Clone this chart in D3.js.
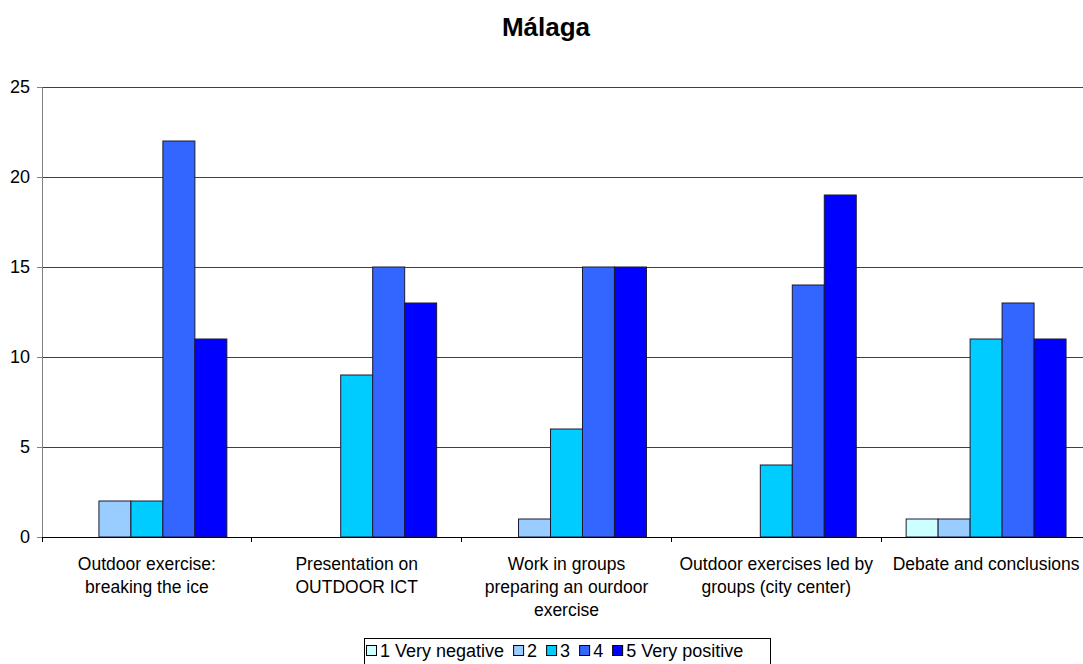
<!DOCTYPE html>
<html lang="en">
<head>
<meta charset="UTF-8">
<title>Málaga</title>
<script src="https://d3js.org/d3.v7.min.js"></script>
<style>
  body { margin: 0; background: #fff; }
  svg { font-family: "Liberation Sans", Arial, sans-serif; }
</style>
</head>
<body>
<svg width="1083" height="664"></svg>
<script>
const categories = [
  ["Outdoor exercise:", "breaking the ice"],
  ["Presentation on", "OUTDOOR ICT"],
  ["Work in groups", "preparing an ourdoor", "exercise"],
  ["Outdoor exercises led by", "groups (city center)"],
  ["Debate and conclusions"]
];
const seriesNames = ["1 Very negative", "2", "3", "4", "5 Very positive"];
const veryNegative = [0, 0, 0, 0, 1];
const two = [2, 0, 1, 0, 1];
const three = [2, 9, 6, 4, 11];
const four = [22, 15, 15, 14, 13];
const veryPositive = [11, 13, 15, 19, 11];
const yTicks = [0, 5, 10, 15, 20, 25];
const colors = ["#ccffff", "#99ccff", "#00ccff", "#3366ff", "#0000ff"];

const seriesValues = [veryNegative, two, three, four, veryPositive];
const svg = d3.select("svg");

const plotLeft = 42, plotRight = 1091, plotTop = 87, plotBottom = 537;

const x0 = d3.scaleBand().domain(d3.range(categories.length)).range([plotLeft, plotRight]).padding(0);
const x1 = d3.scaleBand().domain(d3.range(seriesNames.length))
  .range([0, x0.bandwidth()]).paddingInner(0).paddingOuter(0.78);
const y = d3.scaleLinear().domain([0, 25]).range([plotBottom, plotTop]);

// title
svg.append("text").attr("x", 546).attr("y", 36).attr("text-anchor", "middle")
  .style("font-size", "26px").style("font-weight", "bold").text("Málaga");

// gridlines
svg.append("g").selectAll("line").data(yTicks.filter(d => d > 0)).join("line")
  .attr("x1", plotLeft).attr("x2", 1083)
  .attr("y1", d => y(d)).attr("y2", d => y(d))
  .attr("stroke", "#404040").attr("stroke-width", 1).attr("shape-rendering", "crispEdges");

// y axis
const yAxis = d3.axisLeft(y).tickValues(yTicks).tickSize(5).tickPadding(7);
const gy = svg.append("g").attr("transform", `translate(${plotLeft},0)`).call(yAxis);
gy.select(".domain").attr("stroke", "#808080");
gy.selectAll(".tick line").attr("stroke", "#808080");
gy.selectAll("text").style("font-size", "18px").style("font-family", "Liberation Sans, Arial, sans-serif").attr("fill", "#000");

// bars
const groups = svg.append("g").selectAll("g").data(categories).join("g")
  .attr("transform", (d, i) => `translate(${x0(i)},0)`);
groups.selectAll("rect")
  .data((d, i) => seriesValues.map((s, k) => ({ k, v: s[i] })).filter(d => d.v > 0))
  .join("rect")
  .attr("x", d => x1(d.k))
  .attr("width", x1.bandwidth())
  .attr("y", d => y(d.v))
  .attr("height", d => y(0) - y(d.v))
  .attr("fill", d => colors[d.k])
  .attr("stroke", "#1a1a33").attr("stroke-width", 1);

// x axis
svg.append("line").attr("x1", plotLeft).attr("x2", 1083).attr("y1", plotBottom).attr("y2", plotBottom)
  .attr("stroke", "#000").attr("shape-rendering", "crispEdges");
svg.append("g").selectAll("line").data(d3.range(categories.length)).join("line")
  .attr("x1", d => x0(d)).attr("x2", d => x0(d))
  .attr("y1", plotBottom).attr("y2", plotBottom + 5)
  .attr("stroke", "#000").attr("shape-rendering", "crispEdges");

// category labels
const labels = svg.append("g").selectAll("text").data(categories).join("text")
  .attr("text-anchor", "middle")
  .attr("x", (d, i) => x0(i) + x0.bandwidth() / 2)
  .attr("y", 570)
  .style("font-size", "17.5px");
labels.selectAll("tspan").data(d => d).join("tspan")
  .attr("x", function () { return d3.select(this.parentNode).attr("x"); })
  .attr("dy", (d, j) => j === 0 ? 0 : 23)
  .text(d => d);

// legend
const legend = svg.append("g");
legend.append("rect").attr("x", 364.5).attr("y", 638.5).attr("width", 406).attr("height", 26)
  .attr("fill", "#fff").attr("stroke", "#000");
let lx = 366;
seriesNames.forEach((name, k) => {
  legend.append("rect").attr("x", lx + 0.5).attr("y", 645.5).attr("width", 10).attr("height", 10)
    .attr("fill", colors[k]).attr("stroke", "#000");
  const t = legend.append("text").attr("x", lx + 14).attr("y", 657)
    .style("font-size", "18px").text(name);
  lx += 14 + t.node().getComputedTextLength() + 9;
});
</script>
</body>
</html>
